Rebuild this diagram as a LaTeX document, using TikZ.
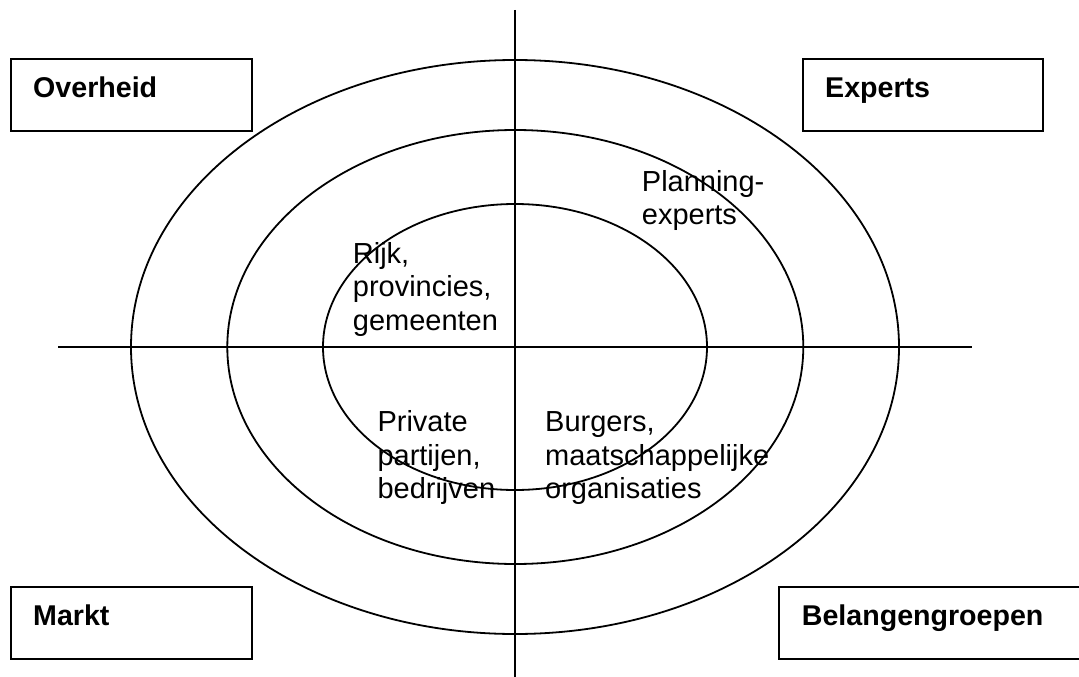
\documentclass[tikz,border=0pt]{standalone}
\usepackage{fontspec}
\setmainfont{Liberation Sans}
\tikzset{
  boxframe/.style={draw=black, line width=2.2pt},
  ring/.style={draw=black, line width=1.8pt},
  axis/.style={draw=black, line width=1.8pt},
  boxlabel/.style={anchor=base west, inner sep=0pt, font=\fontsize{28.6}{33}\selectfont\bfseries},
  txt/.style={anchor=base west, inner sep=0pt, font=\fontsize{29}{33.3}\selectfont},
}
\begin{document}
\begin{tikzpicture}[x=1pt,y=-1pt]
\useasboundingbox (0,0) rectangle (1079,677);
% boxes
\draw[boxframe] (10.7,59) rectangle (252,130.7);
\draw[boxframe] (802.7,59) rectangle (1043,130.7);
\draw[boxframe] (10.7,587) rectangle (252,659.3);
\draw[boxframe] (779,587) rectangle (1095,659.3);
% ellipses
\draw[ring] (515,347) ellipse [x radius=384, y radius=287];
\draw[ring] (515.3,347) ellipse [x radius=288, y radius=217];
\draw[ring] (515,347) ellipse [x radius=192, y radius=143];
% axes
\coordinate (vtop) at (515,10);
\coordinate (vbot) at (515,680);
\coordinate (hl) at (58,347);
\coordinate (hr) at (972,347);
\draw[axis] (vtop) -- (vbot);
\draw[axis] (hl) -- (hr);
% box labels
\node[boxlabel] (ov) at (33,97) {Overheid};
\node[boxlabel] (ex) at (825,97) {Experts};
\node[boxlabel] (ma) at (33,625) {Markt};
\node[boxlabel] (be) at (801.7,625) {Belangengroepen};
% inner texts
\node[txt] (r1) at (352.7,263.3) {Rijk,};
\node[txt] (r2) at (352.7,296.7) {provincies,};
\node[txt] (r3) at (352.7,330) {gemeenten};
\node[txt] (p1) at (641.7,191.7) {Planning-};
\node[txt] (p2) at (641.7,224) {experts};
\node[txt] (q1) at (377.3,431.7) {Private};
\node[txt] (q2) at (377.3,465) {partijen,};
\node[txt] (q3) at (377.3,498.3) {bedrijven};
\node[txt] (b1) at (545,431.7) {Burgers,};
\node[txt] (b2) at (545,465) {maatschappelijke};
\node[txt] (b3) at (545,498.3) {organisaties};
\end{tikzpicture}
\end{document}
